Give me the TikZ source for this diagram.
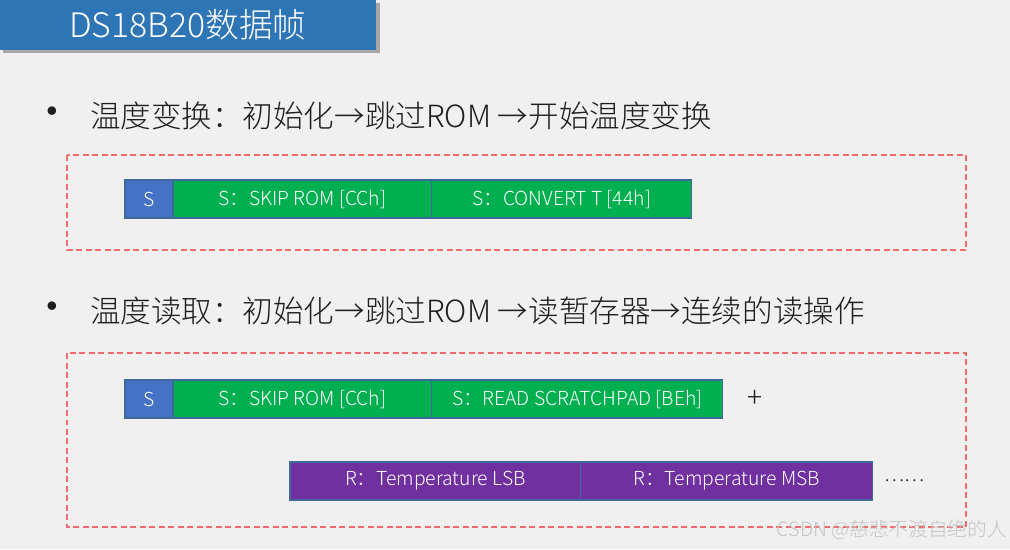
\documentclass[tikz,border=0pt]{standalone}
\usepackage{fontspec}
\setmainfont{Noto Sans CJK SC}[UprightFont=* Light]
\usetikzlibrary{positioning}
\definecolor{bg}{HTML}{F0F0F0}
\definecolor{titleblue}{HTML}{2E75B6}
\definecolor{shadowgray}{HTML}{A6A6A6}
\definecolor{startblue}{HTML}{4472C4}
\definecolor{cmdgreen}{HTML}{00B050}
\definecolor{readpurple}{HTML}{7030A0}
\definecolor{fieldline}{HTML}{3E6A9A}
\definecolor{framered}{HTML}{F26B6B}
\definecolor{textgray}{HTML}{1E1E1E}
\definecolor{wmgray}{HTML}{C4C4C4}

\begin{document}
\begin{tikzpicture}[x=0.02cm, y=-0.02cm,
  every node/.style={inner sep=0pt, outer sep=0pt},
  field/.style={draw=fieldline, line width=0.6pt, text=white,
    minimum height=0.76cm, font=\fontsize{11}{12}\selectfont},
  startbit/.style={field, fill=startblue, minimum width=0.96cm},
  cmd/.style={field, fill=cmdgreen},
  rd/.style={field, fill=readpurple},
  frame/.style={draw=framered, line width=0.7pt, dash pattern=on 0.12cm off 0.07cm},
  bullettext/.style={text=textgray, font=\fontsize{17.4}{20}\selectfont}
 ]
 \fill [bg] (0,0) rectangle (1010,549);
 \useasboundingbox (0,0) rectangle (1010,549);

 \fill [shadowgray] (3,3) rectangle (380,53);
 \node [fill=titleblue, anchor=north west, minimum width=7.52cm, minimum height=1cm,
   text=white, font=\fontsize{19.2}{22}\selectfont] (T) at (0,0) {DS18B20数据帧};

 \node [bullettext, anchor=west] (L1) at (90,116) {温度变换：初始化→跳过ROM →开始温度变换};
 \node [bullettext, font=\fontsize{26}{28}\selectfont] (B1) at (52,118) {•};
 \draw [frame] (67,155) rectangle (966,250);
 \node [startbit] (S1) at (149,199) {S};
 \node [cmd, minimum width=5.18cm, right=0pt of S1] (SKIP1) {S：SKIP ROM [CCh]};
 \node [cmd, minimum width=5.2cm, right=0pt of SKIP1] (CONV) {S：CONVERT T [44h]};

 \node [bullettext, anchor=west] (L2) at (90,311) {温度读取：初始化→跳过ROM →读暂存器→连续的读操作};
 \node [bullettext, font=\fontsize{26}{28}\selectfont] (B2) at (52,313) {•};
 \draw [frame] (67,353) rectangle (966,527);
 \node [startbit] (S2) at (149,399) {S};
 \node [cmd, minimum width=5.18cm, right=0pt of S2] (SKIP2) {S：SKIP ROM [CCh]};
 \node [cmd, minimum width=5.82cm, right=0pt of SKIP2] (READ) {S：READ SCRATCHPAD [BEh]};
 \node [right=0.5cm of READ, text=textgray, font=\fontsize{16}{18}\selectfont] (PLUS) {+};
 \node [rd, minimum width=5.82cm, anchor=west] (LSB) at (290,481) {R：Temperature LSB};
 \node [rd, minimum width=5.84cm, right=0pt of LSB] (MSB) {R：Temperature MSB};
 \node [right=0.24cm of MSB, text=textgray, font=\fontsize{11}{12}\selectfont] (MORE) {……};

 \node [anchor=east, text=wmgray, font=\fontsize{11.2}{13}\selectfont] (WM) at (1007,530) {CSDN @慈悲不渡自绝的人};
\end{tikzpicture}
\end{document}
